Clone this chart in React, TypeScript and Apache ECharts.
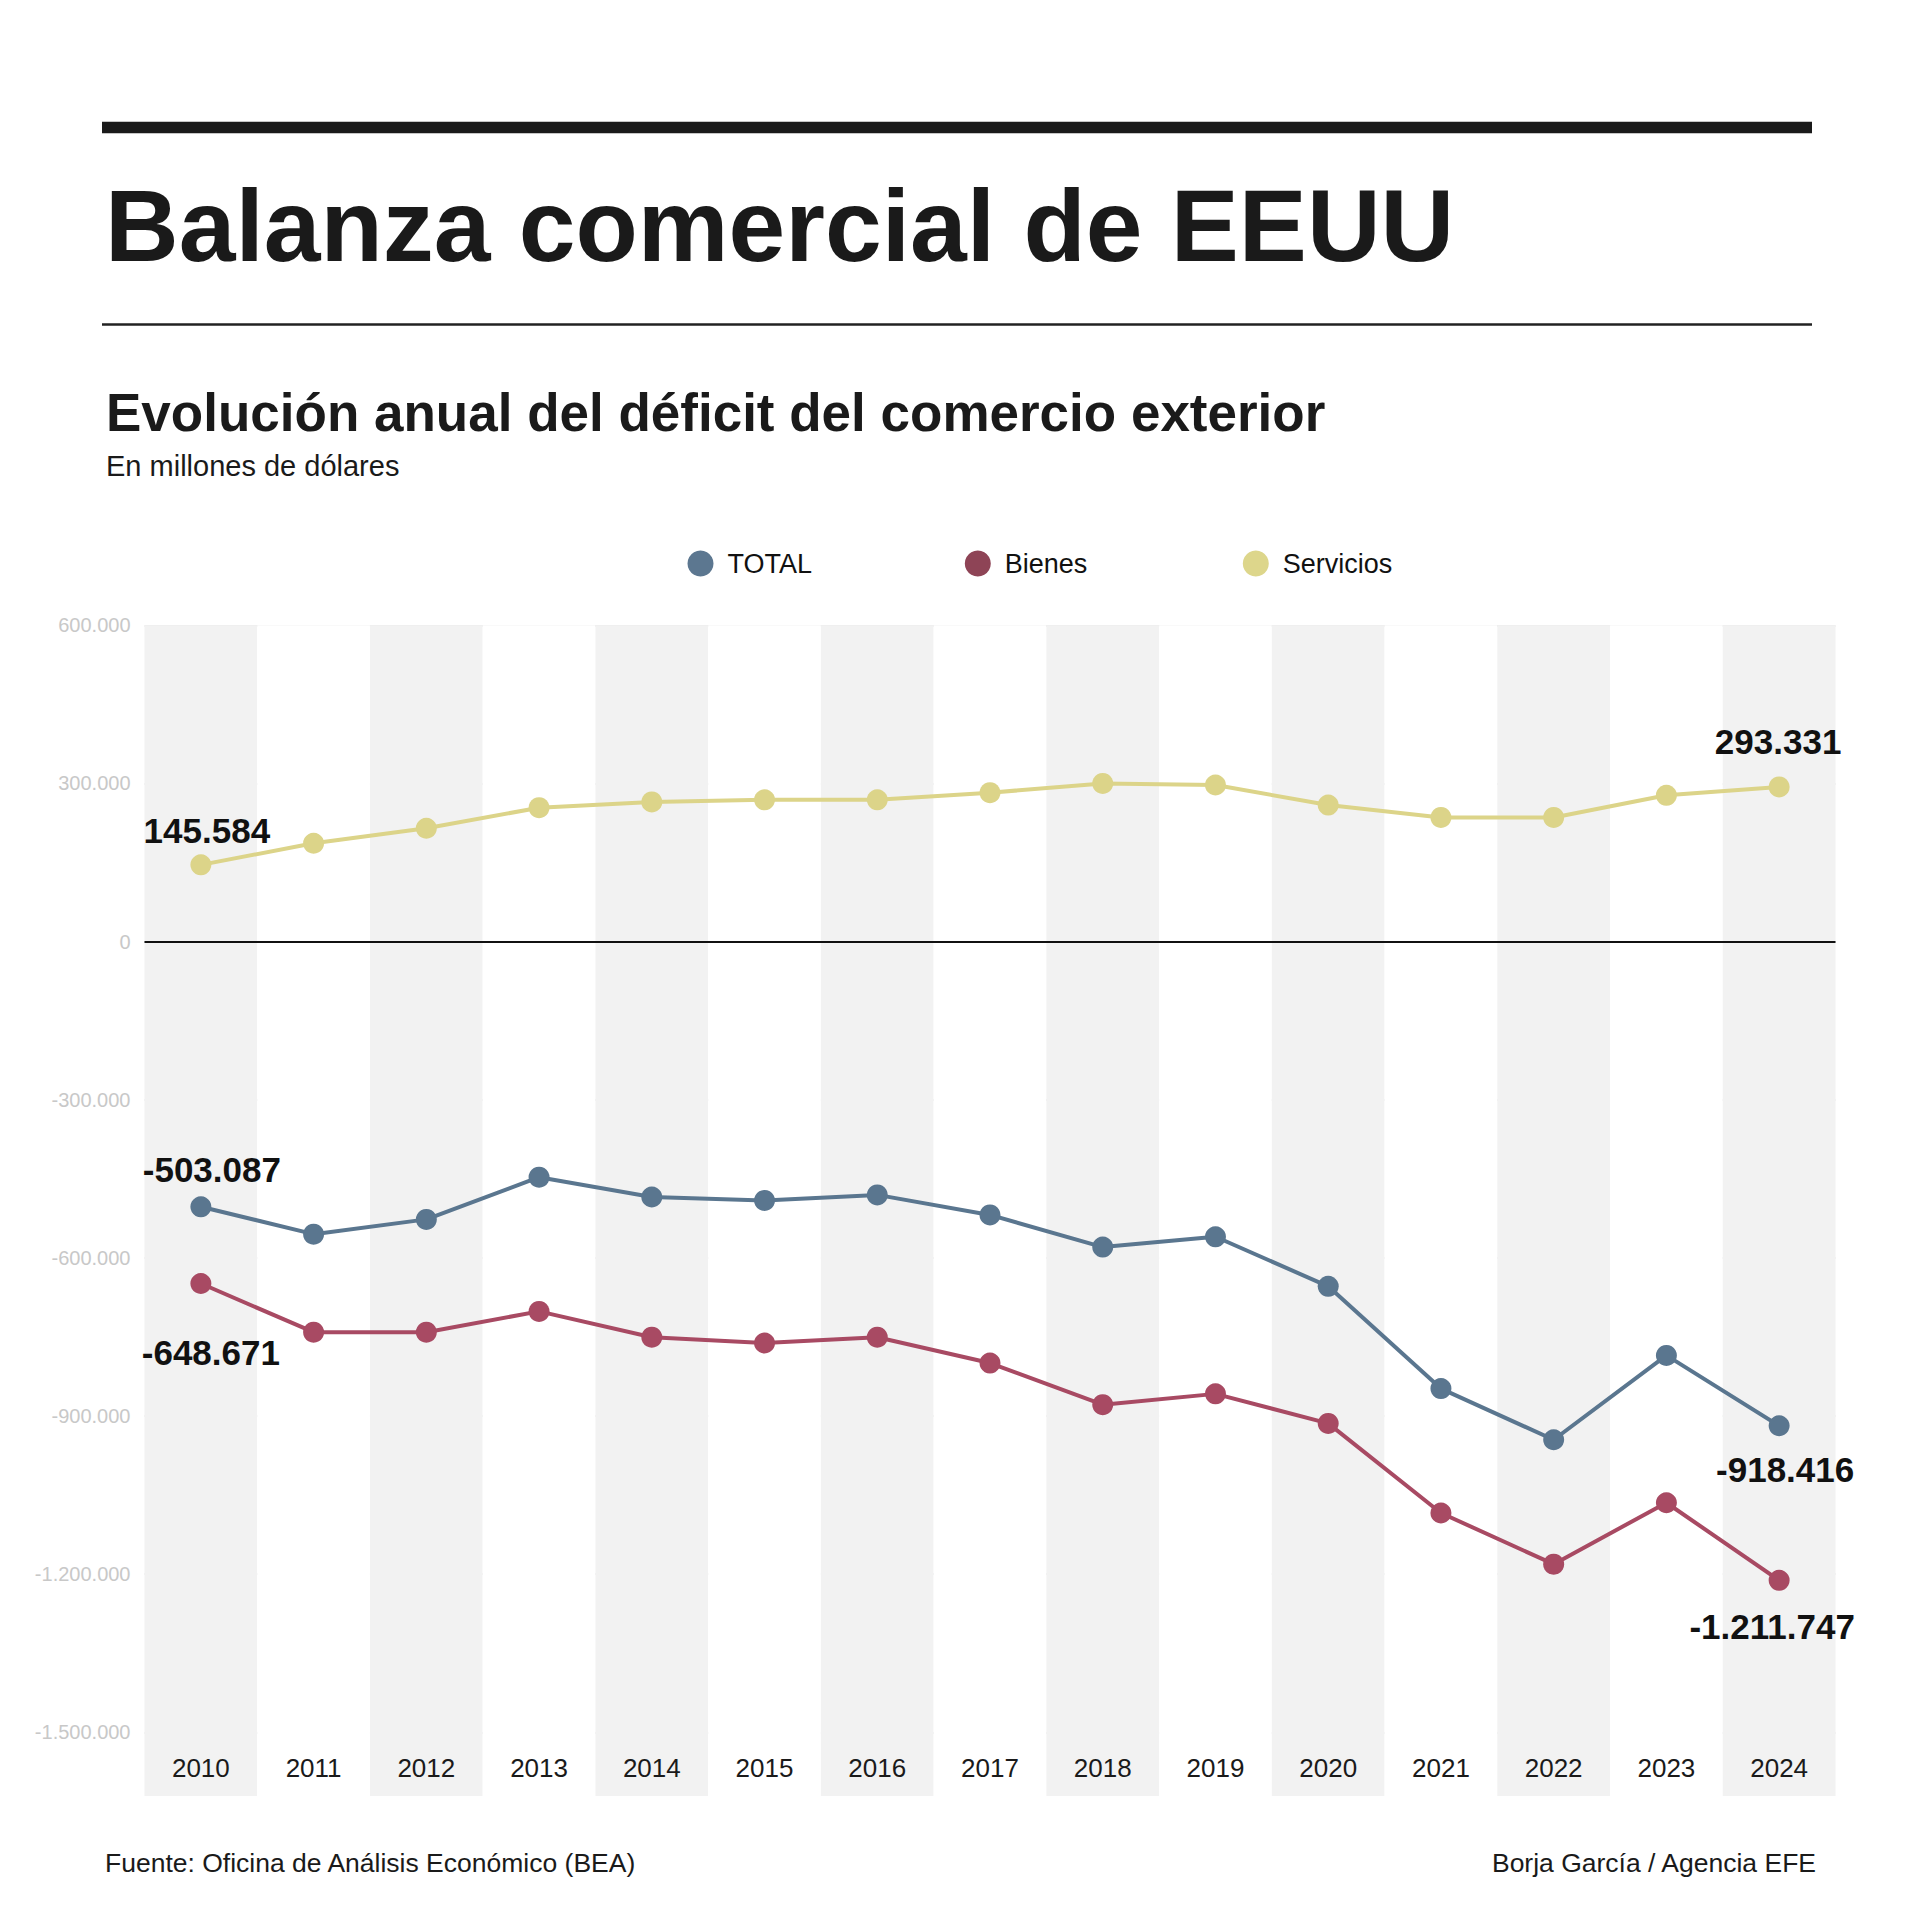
import React, { useEffect, useRef } from 'react';
import * as echarts from 'echarts';

// ---- Data (millones de dólares) ----
const YEARS = ['2010', '2011', '2012', '2013', '2014', '2015', '2016', '2017', '2018', '2019', '2020', '2021', '2022', '2023', '2024'];
const TOTAL = [-503087, -555000, -527000, -447000, -484500, -491000, -480500, -518500, -579500, -560000, -654000, -848000, -945000, -785000, -918416];
const BIENES = [-648671, -741000, -741000, -701500, -750500, -761500, -750500, -799500, -878500, -858000, -914000, -1084000, -1181000, -1064500, -1211747];
const SERVICIOS = [145584, 186500, 215000, 254000, 265000, 269000, 269000, 282500, 300000, 297000, 259000, 235500, 235500, 277500, 293331];
const SERIES_NAMES = ['TOTAL', 'Bienes', 'Servicios'];
const Y_MIN = -1500000;
const Y_MAX = 600000;
const Y_STEP = 300000;

const TITLE = 'Balanza comercial de EEUU';
const SUBTITLE = 'Evolución anual del déficit del comercio exterior';
const UNITS = 'En millones de dólares';
const SOURCE = 'Fuente: Oficina de Análisis Económico (BEA)';
const CREDIT = 'Borja García / Agencia EFE';

// ---- Styles ----
const SANS = "'Liberation Sans', Arial, Helvetica, sans-serif";
const C_TOTAL = '#5a768f';
const C_BIENES = '#a84a63';
const C_SERV = '#dcd489';
const LEG_TOTAL = '#5c7790';
const LEG_BIENES = '#8e4456';
const LEG_SERV = '#ddd68b';

const GRID_LEFT = 144.5;
const GRID_TOP = 625.3;
const GRID_W = 1691;
const GRID_H = 1107;
const STRIPE_H = 1170.7;

function fmt(v: number): string {
  const s = Math.round(Math.abs(v)).toString().replace(/\B(?=(\d{3})+(?!\d))/g, '.');
  return (v < 0 ? '-' : '') + s;
}

function withEndLabels(values: number[], firstOffset: number[], lastOffset: number[]) {
  const last = values.length - 1;
  return values.map((v, i) => {
    if (i === 0 || i === last) {
      return {
        value: v,
        label: {
          show: true,
          position: 'inside',
          offset: i === 0 ? firstOffset : lastOffset,
          formatter: (p: any) => fmt(p.value),
          fontFamily: SANS,
          fontWeight: 'bold',
          fontSize: 35,
          color: '#111111',
        },
      };
    }
    return v;
  });
}

function lineSeries(name: string, values: number[], color: string, firstOffset: number[], lastOffset: number[], extra: any = {}) {
  return {
    type: 'line',
    name,
    xAxisIndex: 1,
    yAxisIndex: 1,
    data: withEndLabels(values, firstOffset, lastOffset),
    symbol: 'circle',
    symbolSize: 21,
    showSymbol: true,
    lineStyle: { width: 4, color },
    itemStyle: { color },
    emphasis: { disabled: true },
    label: { show: false },
    ...extra,
  };
}

function legendAt(name: string, left: number, color: string) {
  return {
    show: true,
    left,
    top: 550,
    padding: 0,
    icon: 'circle',
    itemWidth: 26,
    itemHeight: 26,
    selectedMode: false,
    data: [{ name, itemStyle: { color } }],
    textStyle: {
      fontFamily: SANS,
      fontSize: 27,
      color: '#111111',
      padding: [0, 0, 0, 9],
    },
  };
}

function textEl(text: string, x: number, baseline: number, fontSize: number, opts: any = {}) {
  // place by visual centre: baseline - 0.35em
  return {
    type: 'text',
    x,
    y: baseline - 0.35 * fontSize,
    silent: true,
    style: {
      text,
      fontFamily: SANS,
      fontSize,
      fill: '#1a1a1a',
      align: opts.align || 'left',
      verticalAlign: 'middle',
      fontWeight: opts.bold ? 'bold' : 'normal',
    },
  };
}

export default function App() {
  const ref = useRef<HTMLDivElement>(null);

  useEffect(() => {
    if (!ref.current) return;
    const chart = echarts.init(ref.current, null, { renderer: 'svg' });

    const option: any = {
      animation: false,
      backgroundColor: '#ffffff',
      legend: [
        legendAt(SERIES_NAMES[0], 687.5, LEG_TOTAL),
        legendAt(SERIES_NAMES[1], 964.8, LEG_BIENES),
        legendAt(SERIES_NAMES[2], 1242.8, LEG_SERV),
      ],
      grid: [
        { left: GRID_LEFT, top: GRID_TOP, width: GRID_W, height: STRIPE_H, containLabel: false },
        { left: GRID_LEFT, top: GRID_TOP, width: GRID_W, height: GRID_H, containLabel: false },
      ],
      xAxis: [
        {
          type: 'category',
          gridIndex: 0,
          data: YEARS,
          boundaryGap: true,
          axisLine: { show: false },
          axisTick: { show: false },
          axisLabel: { show: false },
          splitLine: { show: false },
          splitArea: { show: true, areaStyle: { color: ['#f2f2f2', '#ffffff'] } },
        },
        {
          type: 'category',
          gridIndex: 1,
          data: YEARS,
          boundaryGap: true,
          axisLine: { show: false },
          axisTick: { show: false },
          splitLine: { show: false },
          axisLabel: {
            show: true,
            margin: 23,
            fontFamily: SANS,
            fontSize: 26,
            color: '#1a1a1a',
            interval: 0,
          },
        },
      ],
      yAxis: [
        {
          type: 'value',
          gridIndex: 0,
          min: 0,
          max: 1,
          show: false,
          splitLine: { show: false },
        },
        {
          type: 'value',
          gridIndex: 1,
          min: Y_MIN,
          max: Y_MAX,
          interval: Y_STEP,
          axisLine: { show: false },
          axisTick: { show: false },
          splitLine: { show: true, lineStyle: { color: '#dddddd', width: 1.5 } },
          axisLabel: {
            margin: 14,
            fontFamily: SANS,
            fontSize: 20,
            color: '#c8c8c8',
            formatter: (v: number) => fmt(v),
          },
        },
      ],
      series: [
        lineSeries(SERIES_NAMES[0], TOTAL, C_TOTAL, [11, -37], [6, 44], {
          markLine: {
            silent: true,
            symbol: ['none', 'none'],
            label: { show: false },
            lineStyle: { color: '#111111', width: 2, type: 'solid' },
            emphasis: { disabled: true },
            data: [{ yAxis: 0 }],
          },
        }),
        lineSeries(SERIES_NAMES[1], BIENES, C_BIENES, [10, 69], [-7, 46]),
        lineSeries(SERIES_NAMES[2], SERVICIOS, C_SERV, [6, -34], [-1, -45]),
      ],
      graphic: [
        { type: 'rect', shape: { x: 102, y: 121.7, width: 1710, height: 11.6 }, style: { fill: '#1a1a1a' }, silent: true },
        { type: 'rect', shape: { x: 102, y: 323.3, width: 1710, height: 2.4 }, style: { fill: '#222222' }, silent: true },
        textEl(TITLE, 105, 262, 102, { bold: true }),
        textEl(SUBTITLE, 106, 431.5, 53, { bold: true }),
        textEl(UNITS, 106, 476, 29),
        textEl(SOURCE, 105, 1872.7, 26.5),
        textEl(CREDIT, 1816, 1872.7, 26.5, { align: 'right' }),
      ],
    };

    chart.setOption(option);
    return () => {
      chart.dispose();
    };
  }, []);

  return (
    <div
      ref={ref}
      style={{ position: 'absolute', left: 0, top: 0, width: 1920, height: 1905, background: '#ffffff' }}
    />
  );
}
